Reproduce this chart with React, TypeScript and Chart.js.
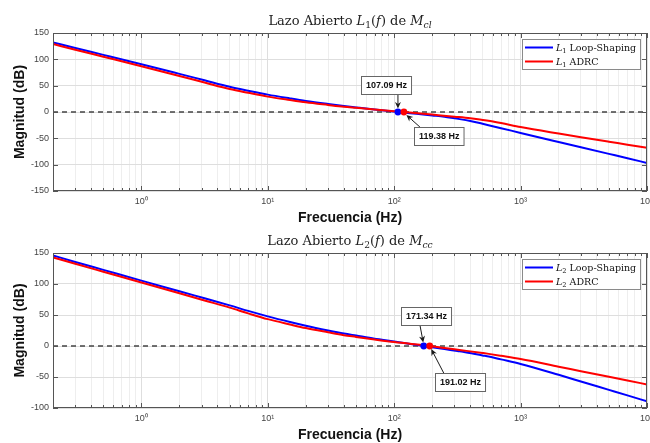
import React, { useEffect, useRef } from 'react';
import { Chart, registerables } from 'chart.js';

Chart.register(...registerables);

// ---------------- data ----------------
const xMin = 0.2;
const xMax = 10000;
const xTickValues = [1, 10, 100, 1000, 10000];
const xTickLabels = ['10⁰', '10¹', '10²', '10³', '10⁴'];

// Panel 1 : L1
const freqLS1 = [0.2, 0.3, 0.5, 1, 2, 3.16, 5, 7, 10, 15, 20, 30, 40, 50, 70, 107.09, 150, 200, 250, 300, 400, 500, 700, 1000, 2000, 3000, 5000, 7000, 10000];
const magLS1 = [132, 121.5, 108.5, 90.7, 72.4, 60.2, 48.0, 40.5, 33.0, 25.8, 21.0, 15.2, 11.4, 8.75, 4.8, 0, -3.5, -6.5, -8.9, -12.0, -16.9, -22.4, -30.7, -39.7, -56.9, -66.9, -79.5, -87.8, -96.7];
const freqADRC1 = [0.2, 0.3, 0.5, 1, 2, 3.16, 5, 7, 10, 15, 20, 30, 40, 50, 70, 100, 119.38, 200, 300, 400, 500, 630, 700, 1000, 2000, 3000, 5000, 7000, 10000];
const magADRC1 = [129, 118.2, 105.0, 87.0, 68.4, 56.0, 43.6, 36.4, 29.2, 22.7, 18.4, 13.4, 10.0, 7.9, 4.75, 1.6, 0, -4.9, -8.8, -11.8, -15.2, -19.0, -21.0, -28.5, -41.0, -48.0, -56.5, -62.0, -68.0];
const crossLS1 = 107.09;
const crossADRC1 = 119.38;
const yRange1 = [-150, 150];

// Panel 2 : L2
const freqLS2 = [0.2, 0.3, 0.5, 1, 2, 3.16, 5, 7, 10, 15, 20, 30, 40, 50, 70, 80, 100, 171.34, 250, 316, 350, 500, 560, 700, 1000, 2000, 3000, 5000, 7000, 10000];
const magLS2 = [146, 135.6, 122.8, 105.4, 88.3, 76.9, 65.5, 56.6, 47.8, 38.7, 32.7, 25.1, 20.1, 16.8, 11.85, 10.2, 7.3, 0, -4.9, -8.0, -9.3, -15.2, -17.0, -21.6, -29.0, -46.5, -57.3, -70.8, -79.7, -89.2];
const freqADRC2 = [0.2, 0.3, 0.5, 1, 2, 3.16, 5, 7, 10, 15, 20, 30, 40, 50, 70, 100, 191.02, 250, 350, 500, 560, 700, 1000, 2000, 3000, 5000, 7000, 10000];
const magADRC2 = [143, 132.6, 119.8, 102.5, 85.1, 73.5, 61.9, 52.6, 43.3, 34.7, 28.9, 22.1, 17.5, 14.7, 10.5, 6.3, 0, -3.2, -7.1, -11.3, -12.7, -15.8, -21.0, -33.3, -40.6, -49.7, -55.6, -62];
const crossLS2 = 171.34;
const crossADRC2 = 191.02;
const yRange2 = [-100, 150];
const yStep = 50;

// ---------------- styles ----------------
const BLUE = '#0000ff';
const RED = '#ff0000';
const AXIS = '#555555';
const GRID_MAJOR = '#dedede';
const GRID_MINOR = '#eeeeee';
const SANS = '"Liberation Sans", Arial, Helvetica, sans-serif';
const SERIF = '"DejaVu Serif", serif';

type Seg = { t: string; st: 'n' | 'i' | 'sub' | 'subi' };

function xAllTicks(): number[] {
  const out: number[] = [];
  for (let d = -1; d <= 4; d++) {
    for (let k = 1; k <= 9; k++) {
      const v = Number((k * Math.pow(10, d)).toPrecision(6));
      if (v >= xMin - 1e-9 && v <= xMax + 1e-9) out.push(v);
    }
  }
  return out;
}
const isMajor = (v: number) => xTickValues.includes(v);

function segFont(st: Seg['st'], size: number, family: string) {
  const sub = st === 'sub' || st === 'subi';
  const it = st === 'i' || st === 'subi';
  return `${it ? 'italic ' : ''}${sub ? size * 0.7 : size}px ${family}`;
}
function richWidth(ctx: CanvasRenderingContext2D, segs: Seg[], size: number, family: string) {
  let w = 0;
  for (const s of segs) {
    ctx.font = segFont(s.st, size, family);
    w += ctx.measureText(s.t).width;
  }
  return w;
}
function drawRich(ctx: CanvasRenderingContext2D, segs: Seg[], x: number, baseline: number, size: number, family: string, color: string) {
  ctx.fillStyle = color;
  ctx.textBaseline = 'alphabetic';
  ctx.textAlign = 'left';
  let cx = x;
  for (const s of segs) {
    ctx.font = segFont(s.st, size, family);
    const dy = s.st === 'sub' || s.st === 'subi' ? size * 0.25 : 0;
    ctx.fillText(s.t, cx, baseline + dy);
    cx += ctx.measureText(s.t).width;
  }
}
function drawArrow(ctx: CanvasRenderingContext2D, x1: number, y1: number, x2: number, y2: number) {
  const ang = Math.atan2(y2 - y1, x2 - x1);
  const L = 6.5, W = 3, B = 4.5;
  const c = Math.cos(ang), s = Math.sin(ang);
  ctx.beginPath();
  ctx.moveTo(x1, y1);
  ctx.lineTo(x2 - B * c, y2 - B * s);
  ctx.stroke();
  ctx.beginPath();
  ctx.moveTo(x2, y2);
  ctx.lineTo(x2 - L * c + W * s, y2 - L * s - W * c);
  ctx.lineTo(x2 - B * c, y2 - B * s);
  ctx.lineTo(x2 - L * c - W * s, y2 - L * s + W * c);
  ctx.closePath();
  ctx.fill();
}

interface Crossing { f: number; color: string; box: [number, number]; tail: [number, number]; head: [number, number] }
interface PanelCfg {
  height: number;
  plotTop: number;
  xAxisH: number;
  yRange: number[];
  title: Seg[];
  series: { freq: number[]; mag: number[]; color: string; legend: Seg[] }[];
  crossings: Crossing[];
}

const panel1: PanelCfg = {
  height: 226,
  plotTop: 33,
  xAxisH: 35,
  yRange: yRange1,
  title: [
    { t: 'Lazo Abierto ', st: 'n' }, { t: 'L', st: 'i' }, { t: '1', st: 'sub' }, { t: '(', st: 'n' },
    { t: 'f', st: 'i' }, { t: ') de ', st: 'n' }, { t: 'M', st: 'i' }, { t: 'cl', st: 'subi' },
  ],
  series: [
    { freq: freqLS1, mag: magLS1, color: BLUE, legend: [{ t: 'L', st: 'i' }, { t: '1', st: 'sub' }, { t: ' Loop-Shaping', st: 'n' }] },
    { freq: freqADRC1, mag: magADRC1, color: RED, legend: [{ t: 'L', st: 'i' }, { t: '1', st: 'sub' }, { t: ' ADRC', st: 'n' }] },
  ],
  crossings: [
    { f: crossLS1, color: BLUE, box: [-12, -27.5], tail: [0, -18], head: [0, -3.5] },
    { f: crossADRC1, color: RED, box: [35, 23.5], tail: [16, 15], head: [2.5, 3] },
  ],
};

const panel2: PanelCfg = {
  height: 217,
  plotTop: 27,
  xAxisH: 35,
  yRange: yRange2,
  title: [
    { t: 'Lazo Abierto ', st: 'n' }, { t: 'L', st: 'i' }, { t: '2', st: 'sub' }, { t: '(', st: 'n' },
    { t: 'f', st: 'i' }, { t: ') de ', st: 'n' }, { t: 'M', st: 'i' }, { t: 'cc', st: 'subi' },
  ],
  series: [
    { freq: freqLS2, mag: magLS2, color: BLUE, legend: [{ t: 'L', st: 'i' }, { t: '2', st: 'sub' }, { t: ' Loop-Shaping', st: 'n' }] },
    { freq: freqADRC2, mag: magADRC2, color: RED, legend: [{ t: 'L', st: 'i' }, { t: '2', st: 'sub' }, { t: ' ADRC', st: 'n' }] },
  ],
  crossings: [
    { f: crossLS2, color: BLUE, box: [2, -30.5], tail: [-4, -22], head: [-0.5, -3.5] },
    { f: crossADRC2, color: RED, box: [30, 35.5], tail: [14, 27], head: [1.5, 3] },
  ],
};

function makeDecor(cfg: PanelCfg) {
  return {
    id: 'bodeDecor',
    afterDatasetsDraw(chart: any) {
      const { ctx, chartArea: a } = chart;
      const xs = chart.scales.x;
      const ys = chart.scales.y;
      ctx.save();
      // crossing dots
      for (const c of cfg.crossings) {
        const px = xs.getPixelForValue(c.f);
        const py = ys.getPixelForValue(0);
        ctx.fillStyle = c.color;
        ctx.beginPath();
        ctx.arc(px, py, 3.4, 0, Math.PI * 2);
        ctx.fill();
      }
      // annotations
      for (const c of cfg.crossings) {
        const px = xs.getPixelForValue(c.f);
        const py = ys.getPixelForValue(0);
        const text = `${c.f.toFixed(2)} Hz`;
        ctx.font = `bold 9px ${SANS}`;
        const tw = ctx.measureText(text).width;
        const bw = tw + 9;
        const bh = 18;
        const bx = Math.round(px + c.box[0] - bw / 2) + 0.5;
        const by = Math.round(py + c.box[1] - bh / 2) + 0.5;
        ctx.strokeStyle = '#1a1a1a';
        ctx.fillStyle = '#1a1a1a';
        ctx.lineWidth = 1;
        drawArrow(ctx, px + c.tail[0], py + c.tail[1], px + c.head[0], py + c.head[1]);
        ctx.fillStyle = '#ffffff';
        ctx.fillRect(bx, by, bw, bh);
        ctx.strokeStyle = '#666666';
        ctx.strokeRect(bx, by, bw, bh);
        ctx.fillStyle = '#111111';
        ctx.textAlign = 'center';
        ctx.textBaseline = 'middle';
        ctx.fillText(text, bx + bw / 2, by + bh / 2 + 0.5);
      }
      // legend
      const lsize = 9.5;
      const tw = Math.max(...cfg.series.map((s) => richWidth(ctx, s.legend, lsize, SERIF)));
      const boxW = Math.round(34 + tw + 4);
      const boxH = 30;
      const right = a.right - 7;
      const left = right - boxW;
      const top = a.top + 6;
      ctx.fillStyle = '#ffffff';
      ctx.fillRect(left + 0.5, top + 0.5, boxW, boxH);
      ctx.strokeStyle = '#8a8a8a';
      ctx.lineWidth = 1;
      ctx.strokeRect(left + 0.5, top + 0.5, boxW, boxH);
      cfg.series.forEach((s, i) => {
        const cy = top + 8.5 + i * 14;
        ctx.strokeStyle = s.color;
        ctx.lineWidth = 2;
        ctx.beginPath();
        ctx.moveTo(left + 3, cy);
        ctx.lineTo(left + 31, cy);
        ctx.stroke();
        drawRich(ctx, s.legend, left + 34, cy + 3.4, lsize, SERIF, '#111111');
      });
      ctx.restore();
    },
    afterDraw(chart: any) {
      const { ctx, chartArea: a } = chart;
      const xs = chart.scales.x;
      const ys = chart.scales.y;
      ctx.save();
      ctx.strokeStyle = AXIS;
      ctx.lineWidth = 1;
      ctx.beginPath();
      for (const t of xs.ticks) {
        const px = Math.round(xs.getPixelForValue(t.value)) + 0.5;
        const len = isMajor(t.value) ? 5 : 3;
        ctx.moveTo(px, a.bottom);
        ctx.lineTo(px, a.bottom - len);
        ctx.moveTo(px, a.top);
        ctx.lineTo(px, a.top + len);
      }
      for (const t of ys.ticks) {
        const py = Math.round(ys.getPixelForValue(t.value)) + 0.5;
        ctx.moveTo(a.left, py);
        ctx.lineTo(a.left + 5, py);
        ctx.moveTo(a.right, py);
        ctx.lineTo(a.right - 5, py);
      }
      ctx.stroke();
      ctx.strokeRect(Math.round(a.left) + 0.5, Math.round(a.top) + 0.5, Math.round(a.right - a.left) - 1, Math.round(a.bottom - a.top) - 1);
      // title
      const tsize = 13;
      const w = richWidth(ctx, cfg.title, tsize, SERIF);
      drawRich(ctx, cfg.title, (a.left + a.right) / 2 - w / 2, a.top - 8, tsize, SERIF, '#222222');
      ctx.restore();
    },
  };
}

function BodePanel({ cfg }: { cfg: PanelCfg }) {
  const ref = useRef<HTMLCanvasElement>(null);
  useEffect(() => {
    const allTicks = xAllTicks();
    const datasets: any[] = [
      {
        label: 'zero',
        data: [{ x: xMin, y: 0 }, { x: xMax, y: 0 }],
        borderColor: '#444444',
        backgroundColor: '#444444',
        borderWidth: 1.7,
        borderDash: [5, 4],
        pointRadius: 0,
        order: 6,
      },
      ...cfg.series.map((s, i) => ({
        label: 'series' + i,
        data: s.freq.map((f, j) => ({ x: f, y: s.mag[j] })),
        borderColor: s.color,
        backgroundColor: s.color,
        borderWidth: 2,
        pointRadius: 0,
        cubicInterpolationMode: 'monotone',
        order: 4 - i,
      })),
    ];
    const chart = new Chart(ref.current as HTMLCanvasElement, {
      type: 'line',
      data: { datasets },
      options: {
        responsive: false,
        animation: false,
        events: [],
        layout: { padding: { top: cfg.plotTop, left: 0, right: 3, bottom: 0 } },
        plugins: { legend: { display: false }, tooltip: { enabled: false }, title: { display: false } },
        scales: {
          x: {
            type: 'logarithmic',
            min: xMin,
            max: xMax,
            afterBuildTicks: (s: any) => {
              s.ticks = allTicks.map((v) => ({ value: v }));
            },
            afterFit: (s: any) => {
              s.height = cfg.xAxisH;
              s.paddingLeft = 0;
              s.paddingRight = 0;
            },
            ticks: {
              autoSkip: false,
              maxRotation: 0,
              minRotation: 0,
              padding: 5,
              color: '#444444',
              font: { family: SANS, size: 9 },
              callback: (v: any) => {
                const i = xTickValues.indexOf(Number(v));
                return i >= 0 ? xTickLabels[i] : '';
              },
            },
            grid: {
              drawTicks: false,
              color: (c: any) => (c.tick && isMajor(c.tick.value) ? GRID_MAJOR : GRID_MINOR),
              lineWidth: 1,
            },
            border: { display: false },
            title: {
              display: true,
              text: 'Frecuencia (Hz)',
              color: '#111111',
              font: { family: SANS, size: 14, weight: 'bold', lineHeight: 1 },
              padding: { top: 0, bottom: 1 },
            },
          },
          y: {
            type: 'linear',
            min: cfg.yRange[0],
            max: cfg.yRange[1],
            afterFit: (s: any) => {
              s.width = 53;
            },
            ticks: { stepSize: yStep, padding: 4, color: '#444444', font: { family: SANS, size: 9 } },
            grid: { drawTicks: false, color: GRID_MAJOR, lineWidth: 1 },
            border: { display: false },
            title: {
              display: true,
              text: 'Magnitud (dB)',
              color: '#111111',
              font: { family: SANS, size: 14, weight: 'bold', lineHeight: 1 },
              padding: { top: 13, bottom: 0 },
            },
          },
        },
      } as any,
      plugins: [makeDecor(cfg) as any],
    });
    return () => chart.destroy();
  }, [cfg]);
  return <canvas ref={ref} width={650} height={cfg.height} style={{ display: 'block' }} />;
}

export default function App() {
  useEffect(() => {
    document.body.style.margin = '0';
  }, []);
  return (
    <div style={{ width: 650, height: 443, background: '#ffffff', overflow: 'hidden' }}>
      <BodePanel cfg={panel1} />
      <BodePanel cfg={panel2} />
    </div>
  );
}
